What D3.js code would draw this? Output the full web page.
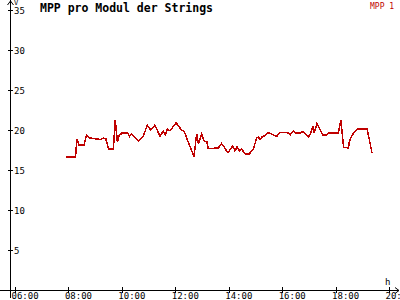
<!DOCTYPE html>
<html>
<head>
<meta charset="utf-8">
<script src="https://cdn.jsdelivr.net/npm/d3@7"></script>
<style>
  body { margin: 0; background: #fff; }
  svg { display: block; }
  text { font-family: "DejaVu Sans Mono", "Liberation Mono", monospace; }
</style>
</head>
<body>
<svg width="400" height="300"></svg>
<script>
// MPP 1 readings, time of day -> value
const times = ["07:55","08:16","08:19","08:24","08:35","08:41","08:48","09:13","09:18","09:24",
  "09:30","09:41","09:45","09:50","09:54","10:00","10:13","10:17","10:21","10:37",
  "10:48","10:57","11:05","11:14","11:26","11:33","11:38","11:42","11:48","12:02",
  "12:14","12:20","12:42","12:48","12:52","12:59","13:05","13:11","13:14","13:25",
  "13:32","13:36","13:44","13:50","13:56","13:59","14:09","14:14","14:19","14:24",
  "14:29","14:37","14:46","14:52","14:55","15:03","15:07","15:10","15:16","15:22",
  "15:27","15:33","15:44","15:48","15:55","16:07","16:14","16:18","16:25","16:31",
  "16:40","16:46","16:54","16:59","17:04","17:09","17:12","17:18","17:24","17:31",
  "17:39","17:44","18:06","18:12","18:18","18:25","18:29","18:31","18:36","18:40",
  "18:48","19:11","19:22"];
const mpp1 = [16.6,16.6,18.9,18.1,18.1,19.4,19.0,18.8,19.0,18.9,
  17.6,17.6,21.3,18.5,19.3,19.6,19.6,19.2,19.5,18.6,
  19.2,20.6,20.0,20.6,19.2,19.9,19.4,20.1,19.9,20.9,
  20.0,19.8,16.7,19.5,18.3,19.5,18.6,18.5,17.7,17.7,
  17.8,17.7,18.3,17.9,17.3,17.2,18.0,17.4,17.9,17.4,
  17.6,17.0,17.0,17.4,17.6,19.0,19.1,18.8,19.2,19.3,
  19.6,19.6,19.3,19.2,19.7,19.7,19.6,19.4,19.9,19.6,
  19.6,19.8,19.4,19.1,19.6,20.5,19.6,20.8,20.2,19.4,
  19.4,19.6,19.6,21.25,17.8,17.8,17.7,18.6,19.2,19.6,
  20.1,20.1,17.1];
const yTicks = [5, 10, 15, 20, 25, 30, 35];
const xTicks = ["06:00","08:00","10:00","12:00","14:00","16:00","18:00","20:00"];

const title = "MPP pro Modul der Strings";
const seriesName = "MPP 1";
const lineColor = "#c00000";

const svg = d3.select("svg");
const parse = d3.timeParse("%H:%M");
const data = times.map((t, i) => ({ t: parse(t), v: mpp1[i] }));

const x = d3.scaleTime().domain([parse("06:00"), parse("20:00")]).range([15, 389]);
const y = d3.scaleLinear().domain([0, 35]).range([290, 10]);

const x0 = 10, y0 = 290;

// x axis
const xAxis = svg.append("g")
  .attr("transform", `translate(0,${y0})`)
  .call(d3.axisBottom(x).tickValues(xTicks.map(parse)).tickFormat(d3.timeFormat("%H:%M")).tickSize(3));
xAxis.select(".domain").remove();
xAxis.selectAll(".tick line").attr("y1", -3).attr("y2", 3).attr("stroke", "#000").attr("shape-rendering", "crispEdges");
xAxis.selectAll(".tick text").attr("text-anchor", "start").attr("x", -4).attr("y", 3)
  .attr("dy", "0.71em").style("font-size", "9px").attr("fill", "#000");

// y axis
const yAxis = svg.append("g")
  .attr("transform", `translate(${x0},0)`)
  .call(d3.axisLeft(y).tickValues(yTicks).tickSize(3));
yAxis.select(".domain").remove();
yAxis.selectAll(".tick line").attr("x1", -2).attr("x2", 3).attr("stroke", "#000").attr("shape-rendering", "crispEdges");
yAxis.selectAll(".tick text").attr("text-anchor", "start").attr("x", 4).attr("dy", "0.4em")
  .style("font-size", "9px").attr("fill", "#000");

// axis lines + arrows
svg.append("line").attr("x1", 0).attr("x2", 399).attr("y1", y0 + 0.5).attr("y2", y0 + 0.5)
  .attr("stroke", "#000");
svg.append("line").attr("x1", x0 + 0.5).attr("x2", x0 + 0.5).attr("y1", 0).attr("y2", 298)
  .attr("stroke", "#000");
svg.append("path").attr("d", `M${x0 - 2.5},5 L${x0 + 0.5},1 L${x0 + 3.5},5`)
  .attr("fill", "none").attr("stroke", "#000");
svg.append("path").attr("d", `M395,${y0 - 2.5} L399,${y0 + 0.5} L395,${y0 + 3.5}`)
  .attr("fill", "none").attr("stroke", "#000");

svg.append("text").attr("x", 14).attr("y", 5).text("V").style("font-size", "7px");
svg.append("text").attr("x", 385).attr("y", 285).text("h").style("font-size", "9px");

// title and legend
svg.append("text").attr("x", 40).attr("y", 12).text(title)
  .style("font-size", "11.5px").style("font-weight", "bold").attr("textLength", 173);
svg.append("text").attr("x", 370).attr("y", 9).text(seriesName)
  .style("font-size", "8px").attr("fill", lineColor);

// series
const line = d3.line().x(d => x(d.t)).y(d => y(d.v));
svg.append("path").datum(data).attr("d", line)
  .attr("fill", "none").attr("stroke", lineColor).attr("stroke-width", 1.5)
  .attr("shape-rendering", "crispEdges");
</script>
</body>
</html>
